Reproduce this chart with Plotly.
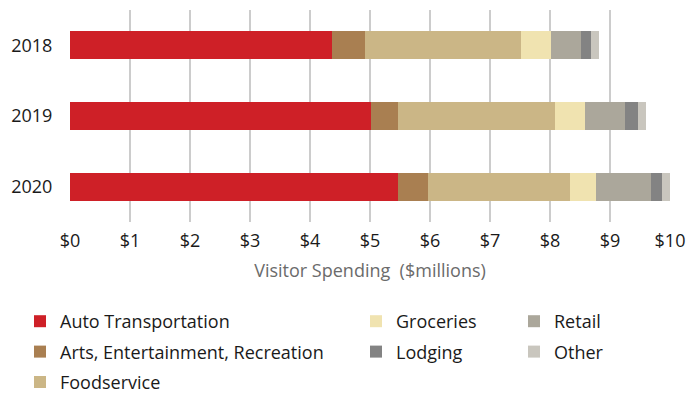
import plotly.graph_objects as go

years = ["2018", "2019", "2020"]
categories = ["Auto Transportation", "Arts, Entertainment, Recreation", "Foodservice",
              "Groceries", "Retail", "Lodging", "Other"]
auto = [4.36, 5.02, 5.46]
arts = [0.55, 0.44, 0.50]
food = [2.60, 2.63, 2.38]
groc = [0.51, 0.49, 0.43]
retail = [0.49, 0.67, 0.92]
lodging = [0.17, 0.21, 0.17]
other = [0.14, 0.14, 0.14]
series = [auto, arts, food, groc, retail, lodging, other]
colors = ["#CE2027", "#A97F51", "#CBB686", "#F0E3B0", "#ABA79B", "#838383", "#C9C6BE"]
legend_ids = ["legend", "legend", "legend", "legend2", "legend3", "legend2", "legend3"]
tick_vals = list(range(0, 11))
tick_text = ["$" + str(v) for v in tick_vals]

FONT = "Open Sans"
FS = 18
fig = go.Figure()
for i, (name, vals, col, lg) in enumerate(zip(categories, series, colors, legend_ids)):
    fig.add_trace(go.Bar(
        y=years, x=vals, name=name, orientation="h",
        marker=dict(color=col, line=dict(width=0)),
        legend=lg, legendgroup="g%d" % i,
    ))

leg_common = dict(orientation="v", yanchor="top", xanchor="left",
                  xref="container", yref="container",
                  font=dict(family=FONT, size=FS, color="#1a1a1a"),
                  bgcolor="rgba(0,0,0,0)", itemwidth=30,
                  traceorder="grouped", tracegroupgap=4)
top = 1 - 303 / 393
fig.update_layout(
    width=690, height=393,
    margin=dict(l=70, r=20, t=10, b=171, autoexpand=False),
    barmode="stack", bargap=0.6,
    plot_bgcolor="white", paper_bgcolor="white",
    font=dict(family=FONT, size=FS, color="#1a1a1a"),
    xaxis=dict(range=[0, 10], tickvals=tick_vals, ticktext=tick_text,
               showgrid=True, gridcolor="#cccccc", gridwidth=1.5,
               zeroline=False, showline=False,
               ticks="outside", ticklen=2, tickcolor="rgba(0,0,0,0)",
               automargin=False,
               tickfont=dict(size=FS, color="#1a1a1a"),
               title=dict(text="Visitor Spending  ($millions)",
                          font=dict(size=FS, color="#6b6b6b"), standoff=13)),
    yaxis=dict(autorange="reversed", showgrid=False, zeroline=False,
               ticks="outside", ticklen=13, tickcolor="rgba(0,0,0,0)", automargin=False,
               tickfont=dict(size=FS, color="#1a1a1a")),
    legend=dict(x=20 / 690, y=top, **leg_common),
    legend2=dict(x=356 / 690, y=top, **leg_common),
    legend3=dict(x=514 / 690, y=top, **leg_common),
    showlegend=True,
)
fig.write_html("out.html", config={"displayModeBar": False},
               post_script="document.body.style.margin='0';document.body.style.overflow='hidden';")
